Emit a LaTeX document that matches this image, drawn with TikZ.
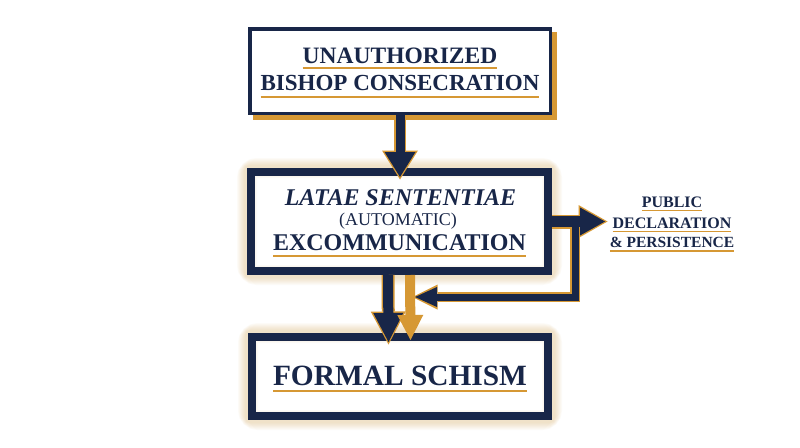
\documentclass[tikz,border=0pt]{standalone}
\usepackage{fontspec}
\setmainfont{Liberation Serif}
\usetikzlibrary{arrows.meta,calc,backgrounds}
\definecolor{navy}{RGB}{24,38,72}
\definecolor{gold}{RGB}{214,152,52}
\newcommand\gul[3]{\setbox0\hbox{#3}\rlap{\color{gold}\rule[-#1pt]{\wd0}{#2pt}}\box0}
\begin{document}
\begin{tikzpicture}[x=1pt,y=-1pt,
  box/.style={draw=navy, rectangle, inner sep=0pt},
  lbl/.style={anchor=base, text=navy, inner sep=0pt},
  ar/.style n args={3}{line width=#1pt,-{Triangle[width=#2pt,length=#3pt,line width=0pt]}},
]
\useasboundingbox (0,0) rectangle (800,447);
% boxes
\node[box, line width=3.5pt, fill=white, minimum width=300.5pt, minimum height=84.5pt] (b1) at (400,71) {};
\node[box, line width=8pt, minimum width=297pt, minimum height=99pt] (b2) at (399.5,221.5) {};
\node[box, line width=8pt, minimum width=296pt, minimum height=79pt] (b3) at (400,376.5) {};
% background, shadow, glow
\begin{scope}[on background layer]
  \fill[white] (0,0) rectangle (800,447);
  \fill[gold] ($(b1.south west)+(5,5)$) rectangle ($(b1.north east)+(5,5)$);
  \foreach \n in {b2,b3}{
    \foreach \w in {20,18,16,14,12,10,8,6}
      \draw[gold, line width=\w pt, opacity=0.035, rounded corners=\w pt/2] (\n.north west) rectangle (\n.south east);
  }
\end{scope}
% texts
\node[lbl, font=\bfseries\fontsize{23.5}{24}\selectfont] (t1a) at (400,63) {\gul{6}{2}{UNAUTHORIZED}};
\node[lbl, font=\bfseries\fontsize{23}{24}\selectfont] (t1b) at (400,90) {\gul{8}{2}{BISHOP CONSECRATION}};
\node[lbl, font=\bfseries\itshape\fontsize{24}{24}\selectfont] (t2a) at (400.5,205) {LATAE SENTENTIAE};
\node[lbl, font=\fontsize{18}{18}\selectfont] (t2b) at (398,225) {(AUTOMATIC)};
\node[lbl, font=\bfseries\fontsize{24}{24}\selectfont] (t2c) at (399.5,250) {\gul{7}{2}{EXCOMMUNICATION}};
\node[lbl, font=\bfseries\fontsize{29.4}{30}\selectfont] (t3) at (400,385) {\gul{7}{2}{FORMAL SCHISM}};
\node[lbl, font=\bfseries\fontsize{16}{16}\selectfont] (p1) at (672,207) {\gul{4}{1.5}{PUBLIC}};
\node[lbl, font=\bfseries\fontsize{16}{16}\selectfont] (p2) at (672,228) {\gul{4}{1.5}{DECLARATION}};
\node[lbl, font=\bfseries\fontsize{15.5}{16}\selectfont] (p3) at (672,247.5) {\gul{4}{1.5}{\& PERSISTENCE}};
% coordinates for connectors
\coordinate (rt) at (605,221.5);
\coordinate (rtg) at (607.5,221.5);
\coordinate (lc) at (575,221.5);
\coordinate (lb) at (575,297);
\coordinate (lt) at (415,297);
\coordinate (ltg) at (412.5,297);
% arrow 1
\draw[gold, ar={12}{36}{29}] (b1.south) -- ($(b2.north)+(0.5,11.5)$);
\draw[navy, ar={9}{31}{25}] (b1.south) -- ($(b2.north)+(0.5,9)$);
% arrow 2 (navy) and 3 (gold)
\draw[gold, ar={13}{35}{33}] ($(b2.south)+(-11.5,0)$) -- ($(b3.north)+(-11.5,11.5)$);
\draw[navy, ar={10}{30}{29}] ($(b2.south)+(-11.5,0)$) -- ($(b3.north)+(-11.5,9)$);
\draw[gold, ar={10}{26}{25}] ($(b2.south)+(10.5,0)$) -- ($(b3.north)+(10.5,7)$);
% right arrow and loop
\draw[gold, ar={14}{33}{29}] (b2.east) -- (rtg);
\draw[gold, ar={10}{25}{25}] (lc) -- (lb) -- (ltg);
\draw[navy, ar={11}{28}{25}] (b2.east) -- (rt);
\draw[navy, ar={7}{20}{22}] (lc) -- (lb) -- (lt);
\end{tikzpicture}
\end{document}
